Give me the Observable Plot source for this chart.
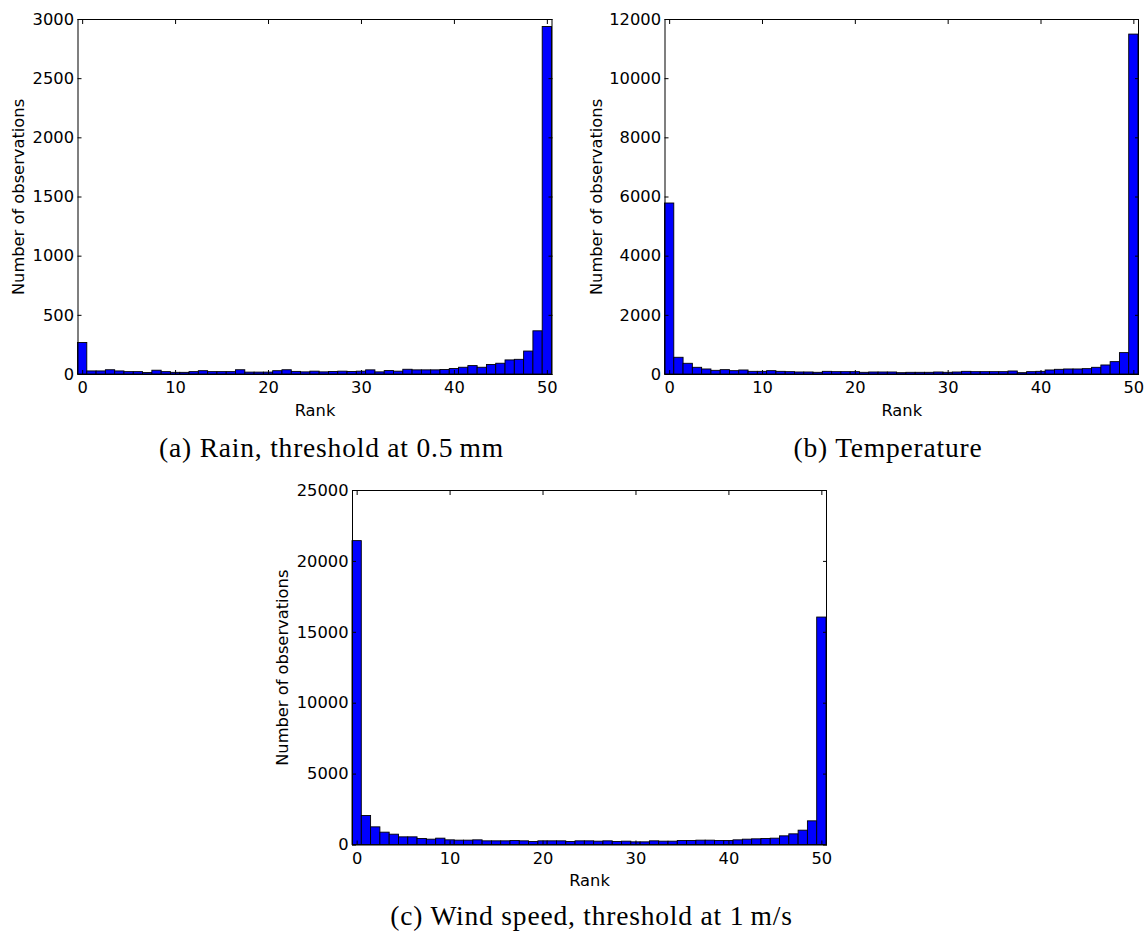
<!DOCTYPE html>
<html><head><meta charset="utf-8">
<script src="https://cdn.jsdelivr.net/npm/d3@7"></script>
<script src="https://cdn.jsdelivr.net/npm/@observablehq/plot@0.6"></script>
<style>
body{margin:0;background:#fff;width:1148px;height:934px;position:relative;overflow:hidden}
.panel{position:absolute}
.cap{position:absolute;font-family:"Liberation Serif",serif;font-size:27.5px;line-height:27.5px;white-space:nowrap;transform:translateX(-50%);color:#000;letter-spacing:0.8px}
</style></head><body>
<div id="pa" class="panel" style="left:0;top:0"></div>
<div id="pb" class="panel" style="left:580px;top:0"></div>
<div id="pc" class="panel" style="left:260px;top:470px"></div>
<div class="cap" style="left:331.5px;top:434px">(a) Rain, threshold at 0.5&#8201;mm</div>
<div class="cap" style="left:888px;top:434px">(b) Temperature</div>
<div class="cap" style="left:591.5px;top:902px">(c) Wind speed, threshold at 1&#8201;m/s</div>
<script>
const ranks = Array.from({length: 51}, (_, i) => i);
const rainCounts = [266, 26, 26, 36, 26, 20, 20, 12, 32, 20, 14, 14, 20, 28, 20, 20, 20, 36, 16, 16, 16, 28, 36, 22, 18, 24, 18, 21, 24, 21, 24, 35, 18, 29, 24, 40, 35, 35, 35, 38, 46, 57, 71, 57, 80, 91, 119, 124, 194, 365, 2937];
const tempCounts = [5780, 565, 362, 226, 170, 124, 147, 113, 136, 90, 90, 113, 90, 79, 68, 68, 57, 90, 79, 79, 79, 57, 68, 68, 68, 45, 57, 57, 57, 68, 57, 68, 90, 79, 79, 79, 79, 102, 45, 79, 90, 136, 158, 170, 170, 181, 226, 305, 418, 723, 11490];
const windCounts = [21430, 2045, 1245, 870, 728, 540, 540, 423, 376, 447, 329, 306, 306, 329, 259, 259, 259, 282, 259, 212, 259, 259, 259, 212, 259, 259, 235, 259, 212, 235, 188, 188, 259, 235, 235, 282, 282, 306, 306, 282, 282, 329, 376, 400, 423, 447, 611, 752, 1010, 1669, 16040];
const xTicks = [0, 10, 20, 30, 40, 50];
const rainYTicks = [0, 500, 1000, 1500, 2000, 2500, 3000];
const tempYTicks = [0, 2000, 4000, 6000, 8000, 10000, 12000];
const windYTicks = [0, 5000, 10000, 15000, 20000, 25000];

function histPanel({counts, yTicks, width, height, ml, mt, mr, mb, ylo}) {
  const data = ranks.map((r, i) => ({rank: r, count: counts[i]}));
  return Plot.plot({
    width, height, marginLeft: ml, marginTop: mt, marginRight: mr, marginBottom: mb,
    style: {fontFamily: "'DejaVu Sans'", fontSize: "16.3px", color: "black", background: "white"},
    x: {domain: [-0.5, 50.5]},
    y: {domain: [yTicks[0], yTicks[yTicks.length - 1]]},
    marks: [
      Plot.rectY(data, {x1: d => d.rank - 0.5, x2: d => d.rank + 0.5, y: "count", fill: "#0000ff", stroke: "#000", strokeWidth: 0.9, inset: 0}),
      Plot.frame({stroke: "#000", strokeWidth: 1}),
      Plot.axisX({ticks: xTicks, tickSize: -4, tickPadding: 11, tickFormat: d3.format("d"), label: "Rank", labelAnchor: "center", labelOffset: 41, labelArrow: "none"}),
      Plot.axisX({anchor: "top", ticks: xTicks, tickSize: -4, tickFormat: () => "", label: null}),
      Plot.axisY({ticks: yTicks, tickSize: -4, tickPadding: 8, tickFormat: d3.format("d"), label: "Number of observations", labelAnchor: "center", labelOffset: ylo, labelArrow: "none"}),
      Plot.axisY({anchor: "right", ticks: yTicks, tickSize: -4, tickFormat: () => "", label: null})
    ]
  });
}

document.getElementById("pa").append(histPanel({counts: rainCounts, yTicks: rainYTicks, width: 570, height: 425, ml: 77.5, mt: 19, mr: 18.5, mb: 51, ylo: 65.5}));
document.getElementById("pb").append(histPanel({counts: tempCounts, yTicks: tempYTicks, width: 568, height: 425, ml: 84.5, mt: 19, mr: 10, mb: 51, ylo: 74.5}));
document.getElementById("pc").append(histPanel({counts: windCounts, yTicks: windYTicks, width: 580, height: 425, ml: 92, mt: 20, mr: 14, mb: 50.5, ylo: 76}));
</script>
</body></html>
